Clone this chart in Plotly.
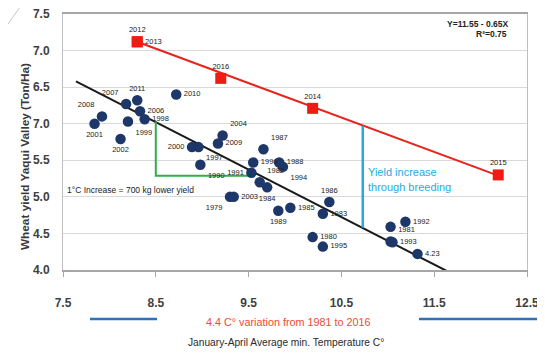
import plotly.graph_objects as go

# ---- data ----
dot_labels = ["2001", "2008", "2007", "2011", "2006", "1998", "1999", "2002", "2010",
              "2000", "1997", "1990", "2009", "2004", "1987", "1996", "1988", "1994",
              "1991", "1982", "1984", "1979", "2003", "1989", "1985", "1986", "1983",
              "1980", "1995", "1992", "", "1981", "1993", "4.23"]
dot_x = [7.84, 7.92, 8.18, 8.30, 8.33, 8.38, 8.20, 8.12, 8.72,
         8.89, 8.96, 8.98, 9.17, 9.22, 9.66, 9.55, 9.83, 9.87,
         9.53, 9.62, 9.70, 9.30, 9.34, 9.82, 9.95, 10.37, 10.30,
         10.19, 10.30, 11.19, 11.03, 11.03, 11.05, 11.32]
dot_y = [6.00, 6.10, 6.27, 6.32, 6.17, 6.06, 6.03, 5.79, 6.40,
         5.68, 5.68, 5.44, 5.73, 5.84, 5.65, 5.47, 5.47, 5.41,
         5.33, 5.20, 5.13, 5.00, 5.00, 4.81, 4.85, 4.93, 4.77,
         4.45, 4.32, 4.66, 4.59, 4.39, 4.38, 4.22]
dot_textpos = ["bottom center", "top left", "top left", "top center", "middle right",
               "middle right", "bottom right", "bottom center", "middle right",
               "middle left", "bottom right", "bottom right", "middle right", "top right",
               "top right", "middle right", "middle right", "bottom right",
               "middle left", "top right", "bottom center", "bottom left", "middle right",
               "bottom center", "middle right", "top center", "middle right",
               "middle right", "middle right", "middle right", "middle right", "top right",
               "middle right", "middle right"]

red_labels = ["2012", "2013", "2016", "2014", "2015"]
red_x = [8.30, 8.30, 9.20, 10.19, 12.19]
red_y = [7.12, 7.12, 6.62, 6.21, 5.30]
red_textpos = ["top center", "middle right", "top center", "top center", "top center"]

red_line_x = [8.30, 12.19]
red_line_y = [7.12, 5.29]
trend_x = [7.64, 11.63]
trend_y = [6.58, 3.99]
green_x = [8.50, 8.50, 9.53]
green_y = [6.03, 5.29, 5.29]
breeding_x = [10.73, 10.73]
breeding_y = [4.58, 5.97]

x_ticks = [7.5, 8.5, 9.5, 10.5, 11.5, 12.5]
x_ticklabels = ["7.5", "8.5", "9.5", "10.5", "11.5", "12.5"]
y_ticks = [4.0, 4.5, 5.0, 5.5, 6.0, 6.5, 7.0, 7.5]
y_ticklabels = ["4.0", "4.5", "5.0", "5.5", "7.0", "6.5", "7.0", "7.5"]

FONT = "Liberation Sans, Arial, sans-serif"

fig = go.Figure()

fig.add_trace(go.Scatter(x=trend_x, y=trend_y, mode="lines",
                         line=dict(color="#1a1a1a", width=2), hoverinfo="skip"))
fig.add_trace(go.Scatter(x=red_line_x, y=red_line_y, mode="lines",
                         line=dict(color="#e8231c", width=2), hoverinfo="skip"))
fig.add_trace(go.Scatter(x=green_x, y=green_y, mode="lines",
                         line=dict(color="#33ad4a", width=2), hoverinfo="skip"))
fig.add_trace(go.Scatter(x=breeding_x, y=breeding_y, mode="lines",
                         line=dict(color="#2aa9e0", width=2.5), hoverinfo="skip"))

fig.add_trace(go.Scatter(x=dot_x, y=dot_y, mode="markers+text", text=dot_labels,
                         textposition=dot_textpos,
                         textfont=dict(family=FONT, size=7.5, color="#222222"),
                         marker=dict(color="#1c3768", size=10.5)))
fig.add_trace(go.Scatter(x=red_x, y=red_y, mode="markers+text", text=red_labels,
                         textposition=red_textpos,
                         textfont=dict(family=FONT, size=7.5, color="#222222"),
                         marker=dict(color="#f01c14", size=11, symbol="square")))

annotations = [
    dict(x=7.52, y=5.10, xref="x", yref="y", text="1°C Increase = 700 kg lower yield",
         showarrow=False, xanchor="left", yanchor="middle",
         font=dict(family=FONT, size=8.5, color="#222222")),
    dict(x=10.77, y=5.34, xref="x", yref="y", text="Yield increase",
         showarrow=False, xanchor="left", yanchor="middle",
         font=dict(family=FONT, size=11, color="#2aa9e0")),
    dict(x=10.77, y=5.13, xref="x", yref="y", text="through breeding",
         showarrow=False, xanchor="left", yanchor="middle",
         font=dict(family=FONT, size=11, color="#2aa9e0")),
    dict(x=12.33, y=7.36, xref="x", yref="y", text="<b>Y=11.55 - 0.65X</b>",
         showarrow=False, xanchor="right", yanchor="middle",
         font=dict(family=FONT, size=8.5, color="#222222")),
    dict(x=12.12, y=7.23, xref="x", yref="y", text="<b>R²=0.75</b>",
         showarrow=False, xanchor="center", yanchor="middle",
         font=dict(family=FONT, size=8.5, color="#222222")),
    dict(x=-0.082, y=0.445, xref="paper", yref="paper",
         text="<b>Wheat yield Yaqui Valley (Ton/Ha)</b>", textangle=-90,
         showarrow=False, xanchor="center", yanchor="middle",
         font=dict(family=FONT, size=11.8, color="#3a3a3a")),
    dict(x=0.485, y=-0.205, xref="paper", yref="paper",
         text="4.4 C° variation from 1981 to 2016",
         showarrow=False, xanchor="center", yanchor="middle",
         font=dict(family=FONT, size=10.8, color="#ee4a35")),
    dict(x=0.481, y=-0.285, xref="paper", yref="paper",
         text="January-April Average min. Temperature C°",
         showarrow=False, xanchor="center", yanchor="middle",
         font=dict(family=FONT, size=10.2, color="#2a2a2a")),
]

shapes = [
    dict(type="line", xref="paper", yref="paper", x0=(90 - 63) / 464, x1=(157 - 63) / 464,
         y0=(270 - 319) / 256, y1=(270 - 319) / 256, line=dict(color="#2f72b5", width=2.5)),
    dict(type="line", xref="paper", yref="paper", x0=(419 - 63) / 464, x1=(540 - 63) / 464,
         y0=(270 - 319) / 256, y1=(270 - 319) / 256, line=dict(color="#2f72b5", width=2.5)),
    dict(type="line", xref="paper", yref="paper", x0=-55 / 464, x1=(25 - 63) / 464,
         y0=(270 - 24) / 256, y1=(270 - 0) / 256, line=dict(color="#c8c8c8", width=1)),
]

# page body has an 8px default margin, so the figure is sized/offset to compensate
fig.update_layout(
    width=537, height=346,
    margin=dict(l=55, r=18, t=6, b=84, autoexpand=False),
    paper_bgcolor="white", plot_bgcolor="white",
    showlegend=False,
    font=dict(family=FONT),
    annotations=annotations,
    shapes=shapes,
    xaxis=dict(range=[7.5, 12.5], tickvals=x_ticks, ticktext=x_ticklabels,
               automargin=False, ticklabeloverflow="allow",
               showgrid=False, zeroline=False, showline=True, linecolor="#a6a6a6",
               linewidth=1.5, mirror=True, ticks="outside", ticklen=5, tickcolor="#a6a6a6",
               ticklabelstandoff=16,
               tickfont=dict(family=FONT, size=12, color="#404040", weight="bold")),
    yaxis=dict(range=[4.0, 7.5], tickvals=y_ticks, ticktext=y_ticklabels,
               automargin=False, ticklabeloverflow="allow",
               showgrid=True, gridcolor="#d9d9d9", gridwidth=1.2, zeroline=False,
               showline=True, linecolor="#bfbfbf", mirror=True,
               ticks="", ticklabelstandoff=10,
               tickfont=dict(family=FONT, size=12, color="#404040", weight="bold")),
)

fig.write_html("out.html")
